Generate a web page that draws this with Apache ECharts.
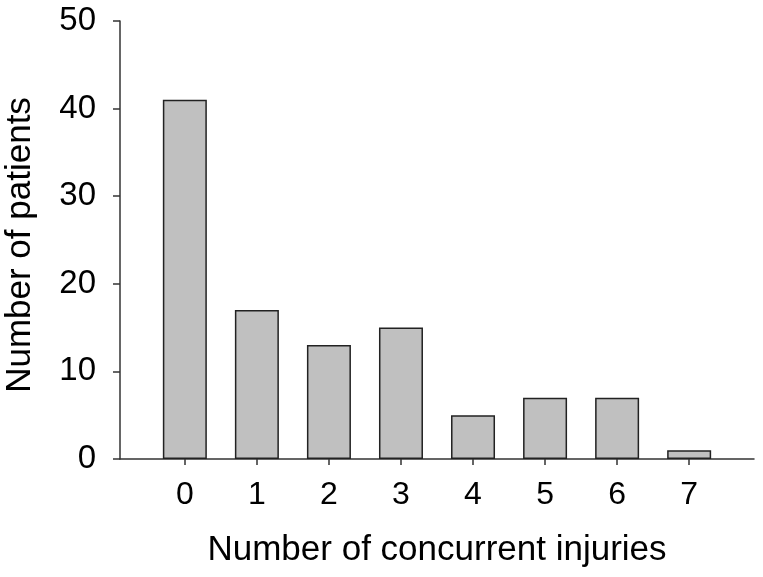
<!DOCTYPE html>
<html>
<head>
<meta charset="utf-8">
<script src="https://cdn.jsdelivr.net/npm/echarts@6/dist/echarts.min.js"></script>
<style>
html,body{margin:0;padding:0;background:#fff;}
#chart{width:763px;height:577px;}
</style>
</head>
<body>
<div id="chart"></div>
<script>
const categories = [0, 1, 2, 3, 4, 5, 6, 7];
const patients = [41, 17, 13, 15, 5, 7, 7, 1];
const yTicks = [0, 10, 20, 30, 40, 50];

const chart = echarts.init(document.getElementById('chart'), null, {renderer: 'canvas'});
const font = 'Liberation Sans, Arial, sans-serif';
const axisColor = '#333';
chart.setOption({
  animation: false,
  backgroundColor: '#fff',
  grid: {left: 120, right: 9, top: 21, bottom: 118, containLabel: false, outerBoundsMode: 'none'},
  xAxis: {
    type: 'value',
    min: -0.9,
    max: 7.9,
    name: 'Number of concurrent injuries',
    nameLocation: 'middle',
    nameGap: 74,
    nameTextStyle: {fontFamily: font, fontSize: 35, color: '#000'},
    axisLine: {show: true, onZero: false, lineStyle: {color: axisColor, width: 1.5}},
    axisTick: {show: true, length: 6, lineStyle: {color: axisColor, width: 1.5}, customValues: categories},
    axisLabel: {customValues: categories, margin: 20, fontFamily: font, fontSize: 32, color: '#000'},
    splitLine: {show: false}
  },
  yAxis: {
    type: 'value',
    min: 0,
    max: 50,
    interval: 10,
    name: 'Number of patients',
    nameLocation: 'middle',
    nameGap: 82,
    nameTextStyle: {fontFamily: font, fontSize: 35, color: '#000', padding: [0, 0, 0, -10]},
    axisLine: {show: true, onZero: false, lineStyle: {color: axisColor, width: 1.5}},
    axisTick: {show: true, length: 7, lineStyle: {color: axisColor, width: 1.5}, customValues: yTicks},
    axisLabel: {margin: 24, fontFamily: font, fontSize: 33, color: '#000', customValues: yTicks},
    splitLine: {show: false}
  },
  series: [{
    type: 'bar',
    data: categories.map((c, i) => [c, patients[i]]),
    barWidth: 44,
    itemStyle: {color: '#c0c0c0', borderColor: '#222', borderWidth: 1.5}
  }]
});
</script>
</body>
</html>
